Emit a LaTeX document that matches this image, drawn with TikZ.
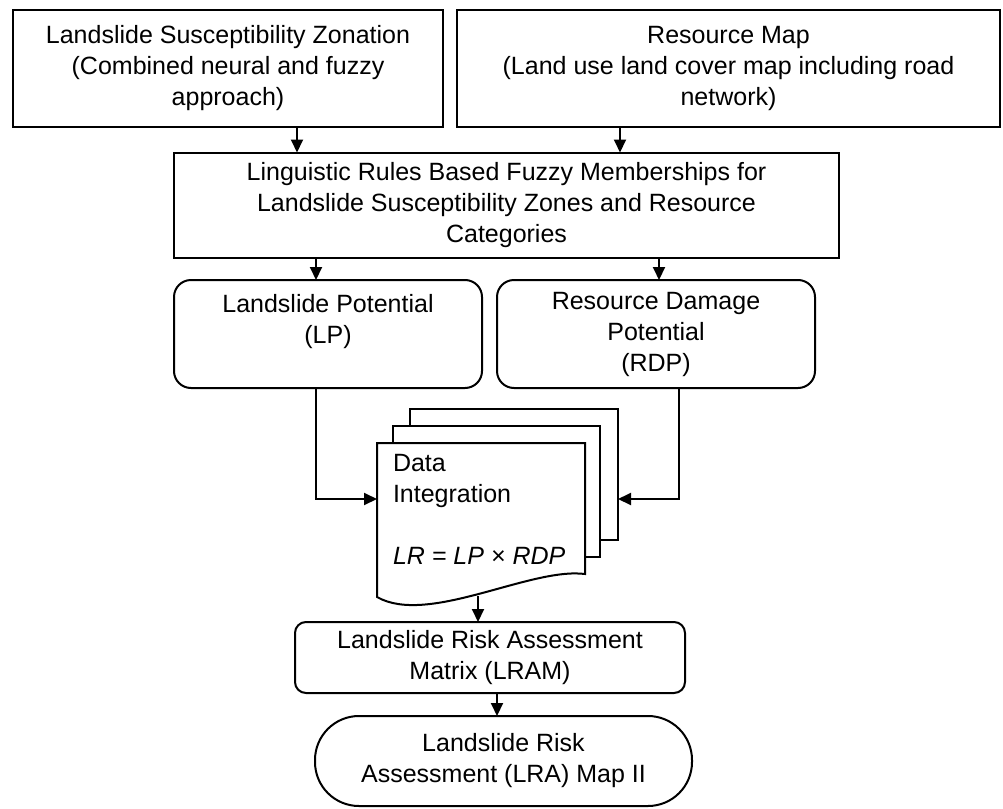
\documentclass[tikz,border=0pt]{standalone}
\usepackage{fontspec}
\setmainfont{Liberation Sans}
\usetikzlibrary{arrows.meta}
\begin{document}
\begin{tikzpicture}[x=1pt,y=-1pt,
  every node/.style={font=\fontsize{25}{31}\selectfont, inner sep=0pt, outer sep=0pt},
  sqbox/.style={draw, line width=2pt, rectangle, align=center},
  rbox/.style={draw, line width=2pt, rectangle, rounded corners=17pt, align=center},
  lbox/.style={draw, line width=2pt, rectangle, rounded corners=11pt, align=center},
  termbox/.style={draw, line width=2pt, rectangle, rounded corners=44pt, align=center},
  page/.style={draw, line width=2pt, fill=white},
  arr/.style={line width=2pt, -{Triangle[length=13pt,width=12pt]}}
]
\useasboundingbox (0,0) rectangle (1003,808);

\node[sqbox, minimum width=430pt, minimum height=117pt] (b1) at (228,68.5)
  {Landslide Susceptibility Zonation\\(Combined neural and fuzzy\\approach)};
\node[sqbox, minimum width=543pt, minimum height=117pt] (b2) at (728.5,68.5)
  {Resource Map\\(Land use land cover map including road\\network)};
\node[sqbox, minimum width=665pt, minimum height=105pt] (b3) at (506.5,205)
  {Linguistic Rules Based Fuzzy Memberships for\\Landslide Susceptibility Zones and Resource\\Categories};
\node[rbox, minimum width=308pt, minimum height=108pt] (lp) at (328,334)
  {Landslide Potential\\(LP)\\\mbox{}};
\node[rbox, minimum width=318pt, minimum height=108pt] (rdp) at (656,334)
  {Resource Damage\\Potential\\(RDP)};

% document stack
\draw[page] (410,409) rectangle (618,540);
\draw[page] (393,426) rectangle (600,557);
\draw[page] (377,597) -- (377,443) -- (585,443) -- (585,574)
  .. controls (530,567) and (428,626) .. cycle;
\node[anchor=north west, align=left] (doc) at (393,454)
  {Data\\Integration\\[31pt]\textit{LR = LP × RDP}};
\coordinate (docL) at (377,499);
\coordinate (docR) at (618,499);
\coordinate (docB) at (478,596);

\node[lbox, minimum width=390pt, minimum height=71pt] (lram) at (490,657.5)
  {Landslide Risk Assessment\\Matrix (LRAM)};
\node[termbox, minimum width=377pt, minimum height=90pt] (term) at (503.5,761)
  {Landslide Risk\\Assessment (LRA) Map II};

% connectors
\draw[arr] ([xshift=69pt]b1.south) -- ([xshift=69pt]b1.south |- b3.north);
\draw[arr] ([xshift=-108.5pt]b2.south) -- ([xshift=-108.5pt]b2.south |- b3.north);
\draw[arr] ([xshift=-12pt]lp.north |- b3.south) -- ([xshift=-12pt]lp.north);
\draw[arr] ([xshift=3pt]rdp.north |- b3.south) -- ([xshift=3pt]rdp.north);
\draw[arr] ([xshift=-12pt]lp.south) |- (docL);
\draw[arr] ([xshift=23pt]rdp.south) |- (docR);
\draw[arr] (docB) -- (docB |- lram.north);
\draw[arr] ([xshift=7pt]lram.south) -- ([xshift=7pt]lram.south |- term.north);
\end{tikzpicture}
\end{document}
